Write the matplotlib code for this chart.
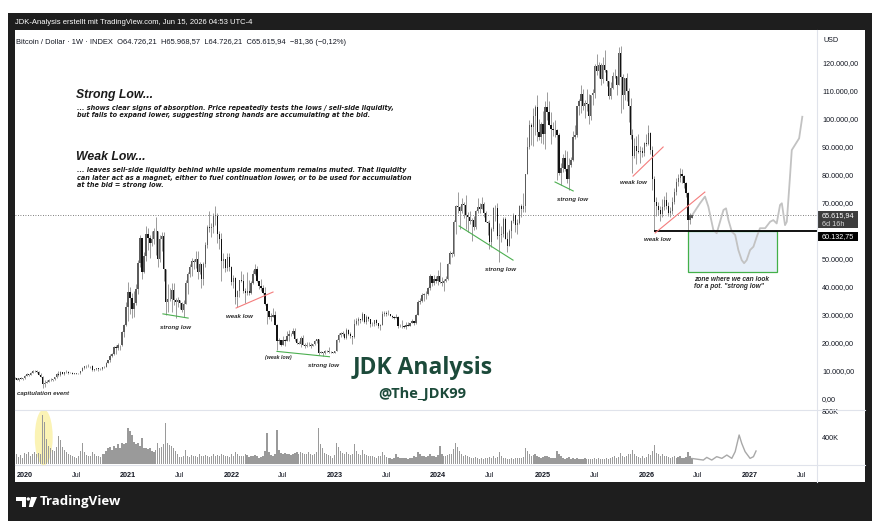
import numpy as np
import pandas as pd
import matplotlib
matplotlib.use("Agg")
import matplotlib.pyplot as plt
import matplotlib.dates as mdates
import matplotlib.transforms as mtransforms
from matplotlib.patches import Rectangle, Ellipse, Polygon
from matplotlib.lines import Line2D

plt.rcParams['font.family'] = ['Liberation Sans', 'DejaVu Sans']

W, H = 883, 532

# weekly bars, prices in thousand USD, first bar = week of 2019-12-02
first_week = "2019-12-02"
first_open = 7.3
closes = [
    7.5, 6.9, 7.5, 7.3, 7.4,
    8.2, 8.9, 8.6, 9.4, 10.1, 9.9, 9.7, 8.5, 8.0, 5.4, 5.8, 5.9, 6.8,
    6.9, 7.1, 7.7, 8.9, 8.7, 9.7, 8.9, 9.5, 9.7, 9.4, 9.3, 9.0, 9.1,
    9.2, 9.2, 9.9, 11.1, 11.7, 11.9, 11.65, 11.7, 10.25, 10.8, 10.9, 10.8, 10.7,
    11.4, 11.5, 13.0, 13.8, 15.5, 16.0, 18.4, 18.2, 19.2, 19.2, 23.8, 26.3, 33.0,
    38.2, 36.0, 32.3, 34.3, 39.3, 48.6, 57.5, 45.2, 51.0, 59.0, 57.6, 55.8, 57.1,
    60.0, 60.0, 50.0, 57.0, 58.2, 46.4, 34.7, 35.7, 35.8, 39.1, 35.5, 34.7, 35.3,
    34.3, 31.8, 34.0, 41.5, 44.6, 47.0, 49.3, 48.8, 49.9, 45.2, 48.3, 42.7, 48.2,
    55.0, 61.5, 61.0, 61.3, 65.5, 65.5, 59.0, 57.2, 49.4, 50.1, 46.7, 50.8, 47.3,
    41.9, 43.1, 36.3, 38.5, 42.4, 42.2, 38.4, 37.7, 38.4, 37.8, 41.3, 44.5, 46.4,
    42.2, 40.4, 39.5, 37.7, 34.0, 31.3, 29.4, 29.4, 29.9, 26.6, 20.6, 21.0, 19.3,
    20.9, 20.8, 22.6, 23.3, 23.2, 24.3, 21.5, 20.0, 19.8, 21.8, 19.4, 18.8, 19.3,
    19.4, 19.1, 19.6, 20.6, 21.3, 16.3, 16.7, 16.5, 17.1, 17.1, 16.8, 16.8, 16.6,
    17.1, 20.9, 22.7, 23.7, 23.3, 21.8, 24.6, 23.2, 22.4, 22.1, 26.9, 27.9, 28.5,
    28.3, 30.4, 27.6, 29.3, 28.4, 26.8, 26.7, 28.1, 27.1, 25.9, 26.3, 30.5, 30.6,
    30.2, 30.3, 29.8, 29.3, 29.0, 29.4, 26.1, 26.0, 25.9, 25.8, 26.5, 26.2, 27.0,
    27.9, 27.2, 29.9, 34.5, 35.0, 37.1, 37.4, 37.5, 39.5, 43.8, 41.4, 43.0, 42.3,
    43.9, 41.7, 41.6, 42.0, 43.0, 48.3, 52.1, 51.7, 63.1, 68.9, 68.4, 67.2, 69.7,
    69.4, 65.7, 64.9, 63.4, 64.0, 61.5, 67.0, 68.5, 67.8, 69.6, 66.5, 63.2, 62.7,
    55.9, 60.8, 68.2, 68.3, 58.1, 58.7, 58.9, 64.2, 57.3, 54.8, 59.9, 63.6, 65.6,
    62.1, 62.9, 69.0, 68.0, 68.8, 80.4, 89.9, 98.0, 97.0, 101.1, 104.4, 95.2, 93.7, 98.3,
    94.5, 104.4, 102.6, 97.7, 96.4, 96.1, 96.2, 94.3, 80.7, 82.6, 86.1, 82.3, 78.4,
    83.7, 85.2, 93.7, 94.3, 104.7, 106.5, 109.0, 104.6, 105.7, 105.5, 100.9, 108.4, 109.2,
    119.1, 117.3, 119.4, 114.2, 119.3, 117.5, 113.5, 108.3, 111.1, 115.3, 115.2, 112.2, 123.5,
    115.1, 108.7, 114.5, 110.0, 104.7, 94.4, 86.8, 90.4, 88.5, 88.2, 88.5, 87.8, 91.4,
    91.0, 95.0, 89.0, 78.5, 70.5, 68.8, 67.5, 66.0, 68.5, 71.0, 69.0, 66.5, 67.0,
    70.5, 74.0, 77.5, 79.0, 80.5, 79.5, 77.0, 73.5, 64.0, 65.7, 65.6,
]
highs = [
    7.9, 7.6, 7.5, 7.7, 7.5,
    8.5, 9.2, 8.9, 9.6, 10.2, 10.5, 10.2, 9.9, 9.2, 8.2, 6.9, 6.9, 7.3,
    7.5, 7.3, 7.8, 9.4, 10.0, 9.9, 9.8, 9.7, 10.4, 9.9, 9.6, 9.8, 9.3,
    9.4, 9.3, 10.0, 11.4, 11.9, 12.1, 12.5, 11.8, 12.1, 10.8, 11.2, 10.9, 10.9,
    11.5, 11.7, 13.3, 14.0, 15.9, 16.5, 18.8, 19.4, 19.9, 19.4, 24.3, 26.9, 34.8,
    41.9, 40.1, 37.9, 38.5, 40.9, 49.7, 58.4, 57.6, 52.6, 61.8, 61.0, 58.5, 60.1,
    61.2, 64.9, 57.0, 58.5, 59.6, 59.5, 46.6, 40.9, 39.5, 41.3, 41.3, 36.0, 36.6,
    35.1, 34.6, 35.5, 42.6, 45.3, 48.1, 50.5, 50.0, 52.9, 52.9, 48.8, 48.0, 49.0,
    56.2, 62.0, 67.0, 63.0, 66.5, 69.0, 66.5, 59.9, 59.2, 52.0, 50.1, 52.0, 52.0,
    47.6, 44.4, 43.5, 38.9, 42.6, 45.8, 44.7, 39.8, 45.4, 42.4, 42.3, 46.0, 48.2,
    47.5, 41.6, 42.9, 40.8, 39.9, 34.3, 30.7, 30.6, 32.4, 31.6, 26.8, 21.9, 21.1,
    22.5, 21.5, 24.3, 24.6, 23.7, 25.2, 25.2, 21.8, 20.6, 22.4, 22.7, 19.9, 20.4,
    20.5, 19.9, 19.7, 21.0, 21.5, 21.5, 17.2, 16.9, 17.4, 17.4, 18.4, 17.0, 16.9,
    17.2, 21.3, 23.4, 23.8, 24.2, 23.4, 25.2, 25.1, 23.9, 22.6, 28.4, 29.1, 29.2,
    28.6, 31.0, 30.5, 30.0, 29.8, 28.0, 27.6, 28.2, 28.4, 27.1, 26.8, 31.4, 31.3,
    31.4, 31.8, 30.4, 30.1, 29.7, 30.2, 29.7, 26.8, 28.1, 26.4, 27.4, 27.4, 27.2,
    28.6, 27.9, 30.3, 35.2, 35.9, 38.0, 37.9, 38.4, 40.0, 44.7, 44.0, 44.3, 43.8,
    45.9, 48.9, 43.4, 42.8, 43.8, 48.6, 52.9, 52.4, 64.0, 69.2, 73.8, 68.9, 71.8,
    70.3, 72.8, 66.8, 67.2, 64.7, 65.5, 67.4, 71.9, 70.0, 72.0, 70.2, 67.3, 63.4,
    63.8, 61.4, 68.4, 69.4, 70.0, 62.7, 61.7, 65.0, 64.9, 59.8, 60.6, 64.1, 66.5,
    65.0, 64.4, 69.4, 69.5, 73.6, 80.5, 93.5, 99.6, 98.7, 104.0, 105.1, 108.4, 99.9, 99.0,
    102.7, 106.4, 109.6, 106.5, 102.5, 98.8, 99.5, 96.4, 95.0, 84.4, 87.5, 88.8, 88.5,
    86.1, 86.5, 95.8, 97.9, 104.8, 107.1, 112.0, 110.7, 106.8, 110.6, 108.9, 108.5, 110.6,
    119.5, 123.2, 120.2, 119.9, 122.3, 124.5, 117.6, 113.3, 113.3, 116.7, 117.9, 115.0, 125.7,
    126.2, 116.0, 114.8, 116.4, 111.2, 107.5, 96.6, 93.1, 94.1, 94.6, 90.5, 90.0, 91.9,
    94.8, 97.9, 95.5, 90.5, 79.5, 72.0, 70.5, 69.0, 71.5, 72.5, 74.0, 70.5, 68.5,
    72.0, 75.5, 79.0, 80.5, 82.5, 82.0, 80.0, 77.5, 74.0, 66.5, 66.0,
]
lows = [
    7.1, 6.9, 6.4, 7.1, 6.9,
    7.3, 8.1, 8.3, 8.6, 9.2, 9.8, 9.3, 8.5, 7.7, 3.8, 4.4, 5.7, 5.9,
    6.6, 6.5, 6.8, 7.6, 8.1, 8.1, 8.8, 8.6, 9.3, 9.1, 9.2, 8.9, 8.9,
    9.1, 9.0, 9.1, 9.9, 10.6, 11.1, 11.4, 11.1, 9.9, 9.9, 10.2, 10.1, 10.4,
    10.5, 11.2, 11.4, 12.9, 13.2, 15.0, 15.8, 16.2, 17.6, 17.6, 19.0, 22.0, 25.9,
    28.0, 30.4, 28.8, 29.3, 33.4, 37.4, 47.0, 43.0, 45.0, 49.3, 53.3, 50.3, 54.7,
    55.5, 51.5, 47.0, 48.8, 53.0, 42.1, 30.0, 31.2, 34.9, 31.1, 33.4, 28.8, 32.7,
    32.1, 31.0, 29.3, 34.0, 37.4, 43.6, 43.9, 46.4, 46.7, 43.0, 44.5, 39.6, 40.8,
    47.1, 53.9, 59.6, 58.0, 59.4, 62.3, 55.6, 53.5, 42.0, 46.8, 45.5, 45.6, 45.7,
    40.7, 39.6, 34.0, 32.9, 36.3, 41.7, 37.9, 34.3, 37.2, 37.2, 37.6, 40.9, 44.2,
    41.9, 39.2, 38.6, 37.6, 33.7, 26.7, 28.6, 28.0, 29.2, 26.6, 17.6, 19.6, 18.9,
    19.3, 18.9, 20.8, 20.7, 22.4, 22.8, 20.8, 19.5, 19.6, 18.6, 19.3, 18.2, 18.5,
    19.0, 18.2, 18.9, 19.2, 20.1, 15.6, 16.3, 15.5, 16.0, 16.9, 16.5, 16.4, 16.3,
    16.5, 17.2, 20.4, 22.3, 22.6, 21.4, 21.5, 22.8, 21.9, 19.6, 21.9, 26.6, 26.6,
    27.3, 28.0, 27.1, 26.9, 27.7, 25.8, 26.1, 26.1, 26.6, 25.4, 24.8, 26.3, 29.6,
    29.7, 30.0, 29.6, 29.0, 28.7, 28.8, 25.2, 25.8, 25.4, 25.4, 24.9, 26.1, 26.1,
    27.2, 26.6, 26.9, 29.9, 34.1, 34.5, 34.9, 35.6, 37.2, 39.0, 40.3, 40.6, 41.5,
    40.8, 41.5, 40.5, 38.5, 41.9, 42.5, 48.2, 50.7, 50.9, 59.0, 66.6, 60.8, 66.4,
    64.5, 60.8, 59.6, 62.6, 56.5, 60.2, 60.6, 66.6, 66.6, 68.5, 65.0, 63.2, 58.4,
    53.5, 54.3, 59.9, 63.5, 57.1, 49.1, 56.1, 57.8, 57.1, 52.5, 54.6, 57.5, 62.7,
    59.8, 58.9, 62.5, 65.1, 66.8, 66.9, 80.2, 89.4, 90.7, 90.5, 94.2, 92.2, 92.5, 91.5,
    91.2, 89.3, 99.5, 97.7, 91.2, 94.1, 93.4, 78.2, 80.0, 76.6, 81.2, 81.6, 77.1,
    74.5, 83.0, 85.0, 92.8, 93.4, 101.4, 102.1, 103.1, 100.4, 102.7, 98.2, 99.6, 105.1,
    107.5, 115.7, 114.7, 112.0, 112.7, 116.8, 111.7, 107.3, 107.3, 110.6, 114.7, 108.6, 113.8,
    102.0, 103.5, 106.7, 106.3, 98.9, 93.0, 80.6, 86.2, 83.8, 87.7, 84.4, 86.4, 86.8,
    90.2, 90.8, 87.5, 74.5, 60.0, 65.5, 65.7, 63.5, 65.0, 67.5, 68.0, 65.5, 65.0,
    66.0, 69.5, 73.0, 76.0, 77.5, 77.0, 75.5, 72.0, 60.0, 62.5, 64.7,
]
# weekly volume, thousands
volume_k = [
    120, 150, 110, 140, 100,
    170, 150, 180, 130, 160, 190, 150, 170, 160, 750, 650, 380, 270,
    250, 215, 200, 260, 430, 370, 260, 210, 190, 160, 140, 120, 110,
    100, 120, 200, 330, 180, 140, 130, 120, 180, 150, 130, 120, 110,
    150, 160, 200, 240, 260, 220, 270, 250, 300, 240, 320, 300, 330,
    550, 500, 450, 345, 300, 330, 280, 400, 250, 240, 230, 240, 200,
    190, 215, 320, 250, 267, 300, 626, 320, 290, 280, 240, 200, 150,
    110, 105, 120, 215, 130, 110, 140, 120, 130, 110, 150, 120, 130,
    140, 120, 110, 130, 150, 120, 140, 130, 160, 140, 130, 120, 110,
    160, 130, 190, 150, 130, 120, 130, 150, 140, 110, 120, 130, 140,
    120, 100, 110, 130, 200, 470, 190, 140, 130, 150, 520, 210, 170,
    160, 170, 150, 160, 140, 150, 170, 180, 150, 190, 170, 160, 150,
    180, 150, 140, 160, 180, 550, 300, 240, 164, 150, 140, 120, 100,
    140, 330, 267, 200, 170, 160, 190, 150, 140, 160, 300, 200, 150,
    140, 215, 150, 140, 130, 120, 130, 110, 100, 130, 120, 190, 140,
    110, 100, 90, 80, 100, 150, 110, 100, 90, 100, 90, 80, 100,
    90, 120, 110, 190, 150, 130, 120, 110, 120, 150, 130, 120, 110,
    140, 270, 160, 130, 120, 140, 160, 150, 230, 318, 260, 200, 150,
    130, 140, 120, 110, 100, 90, 110, 100, 80, 90, 80, 90, 100,
    110, 100, 120, 90, 110, 190, 120, 100, 90, 80, 80, 90, 80,
    90, 100, 90, 100, 110, 250, 200, 160, 130, 140, 150, 120, 110, 100,
    110, 130, 120, 110, 100, 90, 100, 200, 160, 120, 90, 80, 90,
    110, 80, 90, 80, 90, 80, 70, 80, 90, 80, 70, 70, 80,
    90, 80, 90, 80, 70, 80, 90, 80, 100, 110, 120, 100, 110,
    170, 130, 110, 120, 150, 160, 215, 150, 120, 110, 100, 120, 100,
    110, 150, 140, 200, 287, 170, 150, 120, 160, 130, 120, 110, 100,
    110, 120, 100, 110, 120, 100, 90, 110, 190, 120, 90,
]

last_ohlc = [64726.21, 65968.57, 64726.21, 65615.94]
change_txt = "\u221281,36 (\u22120,12%)"
countdown = "6d 16h"
level = 60132.75
level_start = "2026-02-02"

# hand-drawn projection (weeks after last bar)
proj_weeks = [0, 4.0, 6.5, 8.2, 10.7, 12.4, 15.8, 17.1, 18.3, 20.0, 21.7, 23.3, 25.0, 26.2,
              27.5, 29.2, 30.9, 32.6, 34.2, 36.8, 39.3, 40.9, 42.6, 44.3, 45.2, 46.8, 47.7,
              49.3, 50.2, 53.9, 55.5]
proj_price = [65.6, 69.9, 72.3, 68.7, 60.4, 59.2, 67.5, 68.1, 63.9, 59.8, 58.6, 53.2, 49.6, 48.5,
              49.6, 53.2, 54.4, 58.0, 61.0, 61.0, 63.3, 63.9, 62.7, 69.3, 69.9, 62.1, 63.3,
              79.4, 88.9, 93.1, 100.8]
proj_vol_weeks = [0, 5.7, 7.4, 9.9, 12.4, 15.0, 17.5, 20.0, 21.7, 23.7, 25.0, 26.7, 29.2, 30.9, 32.2]
proj_vol_k = [85, 61, 102, 61, 113, 87, 138, 87, 190, 446, 318, 190, 87, 113, 200]

tick_dates = ["2020-01-06", "2020-07-06", "2021-01-04", "2021-07-05", "2022-01-03", "2022-07-04",
              "2023-01-02", "2023-07-03", "2024-01-01", "2024-07-01", "2025-01-06", "2025-07-07",
              "2026-01-05", "2026-07-06", "2027-01-04", "2027-07-05"]
tick_labels = ["2020", "Jul", "2021", "Jul", "2022", "Jul", "2023", "Jul", "2024", "Jul",
               "2025", "Jul", "2026", "Jul", "2027", "Jul"]
price_ticks = [0, 10000, 20000, 30000, 40000, 50000, 70000, 80000, 90000, 100000, 110000, 120000]

green_lines = [("2021-05-07", 30.4, "2021-08-04", 28.9), ("2022-06-13", 17.0, "2022-12-15", 15.1),
               ("2024-03-16", 61.8, "2024-09-22", 49.6), ("2025-02-17", 77.5, "2025-04-22", 74.3)]
red_lines = [("2022-01-20", 32.5, "2022-05-30", 38.2), ("2025-11-19", 79.6, "2026-03-05", 90.0),
             ("2026-02-05", 59.3, "2026-07-30", 73.9)]
low_labels = [("strong low", "2021-06-19", 25.4), ("weak low", "2022-01-31", 29.6),
              ("strong low", "2022-11-23", 12.1), ("strong low", "2024-08-08", 46.4),
              ("strong low", "2025-04-19", 71.4), ("weak low", "2025-11-22", 77.25),
              ("weak low", "2026-02-13", 56.8)]
zone = ("2026-06-01", "2027-04-12", 45.4)


def de(v):
    s = f"{v:,.2f}"
    return s.replace(",", "_").replace(".", ",").replace("_", ".")


def fx(x):
    return x / W


def fy(y):
    return 1 - y / H


def dn(d):
    return mdates.date2num(pd.Timestamp(d))


closes = np.array(closes)
highs = np.array(highs)
lows = np.array(lows)
opens = np.r_[first_open, closes[:-1]]
opens[-1] = last_ohlc[0] / 1000
highs = np.maximum(highs, np.maximum(opens, closes))
lows = np.minimum(lows, np.minimum(opens, closes))
dates = pd.date_range(first_week, periods=len(closes), freq="7D")
x = mdates.date2num(dates)

fig = plt.figure(figsize=(W / 100, H / 100), dpi=100, facecolor="white")
fig.add_artist(Rectangle((fx(8), fy(521)), fx(872) - fx(8), fy(13) - fy(521),
                         transform=fig.transFigure, facecolor="#1e1e1e", edgecolor="none", zorder=-5))
fig.add_artist(Rectangle((fx(15), fy(482)), fx(865) - fx(15), fy(30) - fy(482),
                         transform=fig.transFigure, facecolor="white", edgecolor="none", zorder=-4))

ax = fig.add_axes([fx(15), fy(410), fx(817) - fx(15), fy(30) - fy(410)])
axv = fig.add_axes([fx(15), fy(465), fx(817) - fx(15), fy(410) - fy(465)], sharex=ax)
for a in (ax, axv):
    a.set_facecolor("none")
    for s in a.spines.values():
        s.set_visible(False)

xl = (x[0] + 0.7, x[-1] + 62.9 * 7)

# candles
up = closes >= opens
ax.vlines(x, lows * 1000, highs * 1000, color="#8c8c8c", lw=0.6, zorder=2)
ax.bar(x, np.maximum(np.abs(closes - opens), 0.12) * 1000, bottom=np.minimum(opens, closes) * 1000,
       width=4.6, color=np.where(up, "#5c5c5c", "#121212"), linewidth=0, zorder=3)

# projection
ax.plot(x[-1] + np.array(proj_weeks) * 7, np.array(proj_price) * 1000, color="#c2c2c2", lw=1.3, zorder=2)

last_close = last_ohlc[3]
ax.axhline(last_close, color="#555555", lw=0.6, ls=(0, (1, 2)), zorder=1)
ax.hlines(level, dn(level_start), xl[1], color="black", lw=1.3, zorder=4)

zs, ze, zlow = zone
ax.add_patch(Rectangle((dn(zs), zlow * 1000), dn(ze) - dn(zs), level - zlow * 1000,
                       facecolor="#e6eef9", edgecolor="#43b049", lw=0.9, zorder=1))
ax.text(dn("2026-06-22"), 41.4e3, "zone where we can look\nfor a pot. \"strong low\"", fontsize=4.8,
        style="italic", weight="bold", color="#2b2b2b", va="center", ha="left", linespacing=1.1)

for d0, p0, d1, p1 in green_lines:
    ax.plot([dn(d0), dn(d1)], [p0 * 1000, p1 * 1000], color="#4caf50", lw=0.8, zorder=5)
for d0, p0, d1, p1 in red_lines:
    ax.plot([dn(d0), dn(d1)], [p0 * 1000, p1 * 1000], color="#f47c7c", lw=0.8, zorder=5)
for t, d, p in low_labels:
    ax.text(dn(d), p * 1000, t, fontsize=4.4, style="italic", weight="bold", color="#2b2b2b",
            ha="center", va="center")
ax.text(dn("2022-06-16"), 14.9e3, "(weak low)", fontsize=3.8, style="italic", weight="bold",
        color="#2b2b2b", ha="center", va="center")
ax.text(dn("2019-12-10"), 2.1e3, "capitulation event", fontsize=4.4, style="italic", weight="bold",
        color="#2b2b2b", ha="left", va="center")

ax.set_xlim(xl)
ax.set_ylim(-3929, 131786)
ax.yaxis.tick_right()
ax.set_yticks(price_ticks)
ax.set_yticklabels([de(v) for v in price_ticks])
ax.tick_params(axis="y", length=0, pad=3.6, labelsize=5.2, labelcolor="#131722")
ax.tick_params(axis="x", length=0, labelbottom=False)

# price labels on scale
bt = mtransforms.blended_transform_factory(ax.transAxes, ax.transData)
bw = 41 / 802
ax.add_patch(Rectangle((1.0, last_close - 4640), bw, 6180, transform=bt, facecolor="#3d3d3d",
                       edgecolor="none", clip_on=False, zorder=6))
ax.text(1 + 5 / 802, last_close, de(last_close), transform=bt, fontsize=5.2, color="white",
        va="center", ha="left", clip_on=False, zorder=7)
ax.text(1 + 5 / 802, last_close - 3300, countdown, transform=bt, fontsize=5.2, color="#d6d6d6",
        va="center", ha="left", clip_on=False, zorder=7)
ax.add_patch(Rectangle((1.0, level - 3820), bw, 3360, transform=bt, facecolor="black",
                       edgecolor="none", clip_on=False, zorder=6))
ax.text(1 + 5 / 802, level - 2140, de(level), transform=bt, fontsize=5.2, color="white",
        va="center", ha="left", clip_on=False, zorder=7)

# volume
axv.add_patch(Ellipse((dn("2020-03-13"), 410e3), 63, 860e3, facecolor="#fbf3b5", edgecolor="none", zorder=0))
axv.bar(x, np.array(volume_k) * 1000, width=4.8, color="#9a9a9a", linewidth=0, zorder=2)
axv.plot(x[-1] + np.array(proj_vol_weeks) * 7, np.array(proj_vol_k) * 1000, color="#a8a8a8", lw=1.0, zorder=2)
axv.set_ylim(-15e3, 830e3)
axv.yaxis.tick_right()
axv.set_yticks([400e3, 800e3])
axv.set_yticklabels(["400K", "800K"])
axv.tick_params(axis="y", length=0, pad=3.6, labelsize=5.2, labelcolor="#131722")
axv.set_xticks([dn(d) for d in tick_dates])
axv.set_xticklabels(tick_labels)
axv.tick_params(axis="x", length=0, pad=5, labelsize=5.2, labelcolor="#131722")
for lab in axv.get_xticklabels():
    if lab.get_text() != "Jul":
        lab.set_fontweight("bold")
axv.set_xlim(xl)

# separators
sep = "#e0e3eb"
fig.add_artist(Line2D([fx(817), fx(817)], [fy(30), fy(482)], transform=fig.transFigure, color=sep, lw=0.8))
fig.add_artist(Line2D([fx(15), fx(865)], [fy(410), fy(410)], transform=fig.transFigure, color=sep, lw=0.8))
fig.add_artist(Line2D([fx(15), fx(865)], [fy(465), fy(465)], transform=fig.transFigure, color=sep, lw=0.8))

# header texts
fig.text(fx(15), fy(22), "JDK-Analysis erstellt mit TradingView.com, Jun 15, 2026 04:53 UTC-4",
         color="white", fontsize=5.5, va="center")
o, h, l, c = last_ohlc
fig.text(fx(16), fy(42), f"Bitcoin / Dollar \u00b7 1W \u00b7 INDEX  O{de(o)}  H{de(h)}  L{de(l)}  C{de(c)}  {change_txt}",
         color="#131722", fontsize=5.4, va="center")
fig.text(fx(824), fy(41), "USD", color="#131722", fontsize=5.2, va="center")

# commentary
body_font = ["DejaVu Sans"]
fig.text(fx(76), fy(95), "Strong Low...", fontsize=8.8, style="italic", weight="bold", color="#1a1a1a", va="center")
fig.text(fx(77), fy(111.5), "... shows clear signs of absorption. Price repeatedly tests the lows / sell-side liquidity,\n"
         "but fails to expand lower, suggesting strong hands are accumulating at the bid.",
         fontsize=4.7, family=body_font, style="italic", weight="bold", color="#1a1a1a", va="center", linespacing=1.3)
fig.text(fx(76), fy(157), "Weak Low...", fontsize=8.8, style="italic", weight="bold", color="#1a1a1a", va="center")
fig.text(fx(77), fy(177.5), "... leaves sell-side liquidity behind while upside momentum remains muted. That liquidity\n"
         "can later act as a magnet, either to fuel continuation lower, or to be used for accumulation\n"
         "at the bid = strong low.",
         fontsize=4.7, family=body_font, style="italic", weight="bold", color="#1a1a1a", va="center", linespacing=1.3)

fig.text(fx(423), fy(368), "JDK Analysis", fontsize=16.5, family=["Open Sans", "DejaVu Sans"], weight="bold",
         color="#1c4a3a", ha="center", va="center")
fig.text(fx(422), fy(394), "@The_JDK99", fontsize=10.5, family=["Open Sans", "DejaVu Sans"], weight="bold",
         color="#1c4a3a", ha="center", va="center")

# TradingView logo
fig.add_artist(Polygon([(fx(15.7), fy(497)), (fx(25.5), fy(497)), (fx(25.5), fy(507)), (fx(21.5), fy(507)),
                        (fx(21.5), fy(500.5)), (fx(15.7), fy(500.5))], closed=True,
                       transform=fig.transFigure, facecolor="white", edgecolor="none"))
fig.add_artist(Ellipse((fx(28.3), fy(499)), 3.4 / W, 3.4 / H, transform=fig.transFigure, facecolor="white"))
fig.add_artist(Polygon([(fx(31), fy(497)), (fx(37), fy(497)), (fx(32.8), fy(507)), (fx(28.8), fy(507))],
                       closed=True, transform=fig.transFigure, facecolor="white", edgecolor="none"))
fig.text(fx(40), fy(502), "TradingView", color="white", fontsize=9.5, family=["Open Sans", "DejaVu Sans"],
         weight="bold", va="center")

fig.savefig("out.png", dpi=100, facecolor=fig.get_facecolor())
